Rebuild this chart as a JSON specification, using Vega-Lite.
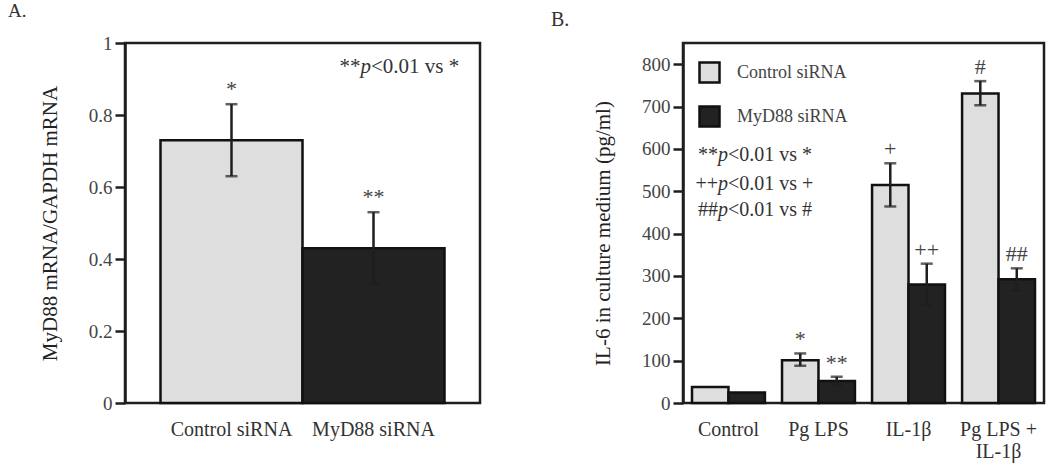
{
  "$schema": "https://vega.github.io/schema/vega-lite/v6.json",
  "padding": {"left": 6, "top": 0, "right": 0, "bottom": 0},
  "background": "white",
  "spacing": 67,
  "config": {
    "font": "Liberation Serif",
    "view": {"stroke": "#1e1e1e", "strokeWidth": 2.5},
    "axis": {
      "labelFont": "Liberation Serif",
      "titleFont": "Liberation Serif",
      "titleFontWeight": "normal",
      "grid": false,
      "domainColor": "#1e1e1e",
      "domainWidth": 2.5,
      "tickColor": "#1e1e1e",
      "tickWidth": 2.5,
      "tickSize": 10,
      "labelColor": "#444444",
      "titleColor": "#222222"
    },
    "title": {"font": "Liberation Serif", "fontWeight": "normal", "color": "#333333"}
  },
  "datasets": {
    "a": [
      {"siRNA": "Control siRNA", "value": 0.73, "lo": 0.63, "hi": 0.83, "sig": "*"},
      {"siRNA": "MyD88 siRNA", "value": 0.43, "lo": 0.33, "hi": 0.53, "sig": "**"}
    ],
    "noteA": [
      {"siRNA": "MyD88 siRNA", "y": 0.917, "pre": "**", "p": "p", "rest": "<0.01 vs *"}
    ],
    "b": [
      {"group": "Control", "siRNA": "Control siRNA", "value": 38, "lo": null, "hi": null, "sig": ""},
      {"group": "Control", "siRNA": "MyD88 siRNA", "value": 25, "lo": null, "hi": null, "sig": ""},
      {"group": "Pg LPS", "siRNA": "Control siRNA", "value": 101, "lo": 88, "hi": 117, "sig": "*"},
      {"group": "Pg LPS", "siRNA": "MyD88 siRNA", "value": 52, "lo": 42, "hi": 62, "sig": "**"},
      {"group": "IL-1β", "siRNA": "Control siRNA", "value": 515, "lo": 464, "hi": 566, "sig": "+"},
      {"group": "IL-1β", "siRNA": "MyD88 siRNA", "value": 280, "lo": 231, "hi": 329, "sig": "++"},
      {"group": "Pg LPS +\nIL-1β", "siRNA": "Control siRNA", "value": 731, "lo": 703, "hi": 760, "sig": "#"},
      {"group": "Pg LPS +\nIL-1β", "siRNA": "MyD88 siRNA", "value": 292, "lo": 266, "hi": 318, "sig": "##"}
    ],
    "noteB": [
      {"group": "Control", "y": 572, "pre": "**", "p": "p", "rest": "<0.01 vs *"},
      {"group": "Control", "y": 503, "pre": "++", "p": "p", "rest": "<0.01 vs +"},
      {"group": "Control", "y": 441, "pre": "##", "p": "p", "rest": "<0.01 vs #"}
    ]
  },
  "resolve": {
    "scale": {"fill": "independent", "x": "independent", "y": "independent"},
    "legend": {"fill": "independent"}
  },
  "hconcat": [
    {
      "width": 355,
      "height": 360,
      "title": {"text": "A.", "anchor": "start", "frame": "group", "dx": -117, "offset": -2, "fontSize": 19, "baseline": "alphabetic"},
      "encoding": {
        "x": {
          "field": "siRNA", "type": "nominal", "sort": ["Control siRNA", "MyD88 siRNA"],
          "scale": {"paddingInner": 0, "paddingOuter": 0.25},
          "axis": {"title": null, "labelAngle": 0, "ticks": false, "domain": false, "labelFontSize": 20, "labelColor": "#333333", "labelPadding": 16, "labelBaseline": "top"}
        }
      },
      "layer": [
        {
          "data": {"name": "a"},
          "mark": {"type": "bar", "stroke": "#111111", "strokeWidth": 2.5},
          "encoding": {
            "y": {
              "field": "value", "type": "quantitative",
              "scale": {"domain": [0, 1], "nice": false},
              "axis": {"title": "MyD88 mRNA/GAPDH mRNA", "values": [0, 0.2, 0.4, 0.6, 0.8, 1], "format": ".1~f", "labelFontSize": 19, "titleFontSize": 21, "labelPadding": 3, "titlePadding": 28}
            },
            "fill": {
              "field": "siRNA", "type": "nominal",
              "scale": {"domain": ["Control siRNA", "MyD88 siRNA"], "range": ["#dedede", "#222222"]},
              "legend": null
            }
          }
        },
        {
          "data": {"name": "a"},
          "mark": {"type": "rule", "strokeWidth": 2.5, "color": "#1e1e1e"},
          "encoding": {
            "y": {"field": "lo", "type": "quantitative"},
            "y2": {"field": "hi"}
          }
        },
        {
          "data": {"name": "a"},
          "mark": {"type": "tick", "orient": "horizontal", "size": 12, "thickness": 2.5, "color": "#1e1e1e"},
          "encoding": {"y": {"field": "hi", "type": "quantitative"}}
        },
        {
          "data": {"name": "a"},
          "mark": {"type": "tick", "orient": "horizontal", "size": 12, "thickness": 2.5, "color": "#1e1e1e"},
          "encoding": {"y": {"field": "lo", "type": "quantitative"}}
        },
        {
          "data": {"name": "a"},
          "mark": {"type": "text", "fontSize": 22, "dy": -8, "baseline": "alphabetic", "color": "#444444"},
          "encoding": {"y": {"field": "hi", "type": "quantitative"}, "text": {"field": "sig"}}
        },
        {
          "data": {"name": "noteA"},
          "mark": {"type": "text", "fontSize": 21, "align": "right", "dx": -13, "baseline": "alphabetic", "color": "#333333"},
          "encoding": {"y": {"field": "y", "type": "quantitative"}, "text": {"field": "pre"}}
        },
        {
          "data": {"name": "noteA"},
          "mark": {"type": "text", "fontSize": 21, "align": "left", "dx": -13, "fontStyle": "italic", "baseline": "alphabetic", "color": "#333333"},
          "encoding": {"y": {"field": "y", "type": "quantitative"}, "text": {"field": "p"}}
        },
        {
          "data": {"name": "noteA"},
          "mark": {"type": "text", "fontSize": 21, "align": "left", "dx": -2.5, "baseline": "alphabetic", "color": "#333333"},
          "encoding": {"y": {"field": "y", "type": "quantitative"}, "text": {"field": "rest"}}
        }
      ]
    },
    {
      "width": 361,
      "height": 360,
      "title": {"text": "B.", "anchor": "start", "frame": "group", "dx": -132, "offset": -3, "fontSize": 20, "baseline": "alphabetic"},
      "encoding": {
        "x": {
          "field": "group", "type": "nominal", "sort": ["Control", "Pg LPS", "IL-1β", "Pg LPS +\nIL-1β"],
          "scale": {"paddingInner": 0.19, "paddingOuter": 0.1},
          "axis": {"title": null, "labelAngle": 0, "ticks": false, "domain": false, "labelFontSize": 20, "labelColor": "#333333", "labelPadding": 16, "labelBaseline": "top", "labelLineHeight": 22, "labelExpr": "split(datum.label, '\\n')"}
        }
      },
      "layer": [
        {
          "data": {"name": "b"},
          "mark": {"type": "bar", "stroke": "#111111", "strokeWidth": 2.5},
          "encoding": {
            "xOffset": {"field": "siRNA", "type": "nominal", "sort": ["Control siRNA", "MyD88 siRNA"], "scale": {"paddingInner": 0, "paddingOuter": 0}},
            "y": {
              "field": "value", "type": "quantitative",
              "scale": {"domain": [0, 850], "nice": false},
              "axis": {"title": "IL-6 in culture medium (pg/ml)", "values": [0, 100, 200, 300, 400, 500, 600, 700, 800], "format": "d", "labelFontSize": 19, "titleFontSize": 21, "labelPadding": 3, "titlePadding": 28, "titleY": 190}
            },
            "fill": {
              "field": "siRNA", "type": "nominal",
              "scale": {"domain": ["Control siRNA", "MyD88 siRNA"], "range": ["#dedede", "#222222"]},
              "legend": {
                "orient": "none", "legendX": 15, "legendY": 18, "title": null, "padding": 0,
                "symbolType": "square", "symbolSize": 400, "symbolStrokeColor": "#111111", "symbolStrokeWidth": 2.5,
                "labelFont": "Liberation Serif", "labelFontSize": 18, "labelColor": "#444444", "labelOffset": 16, "rowPadding": 13
              }
            }
          }
        },
        {
          "data": {"name": "b"},
          "transform": [{"filter": "isValid(datum.hi)"}],
          "mark": {"type": "rule", "strokeWidth": 2.5, "color": "#1e1e1e"},
          "encoding": {
            "xOffset": {"field": "siRNA", "type": "nominal", "sort": ["Control siRNA", "MyD88 siRNA"]},
            "y": {"field": "lo", "type": "quantitative"},
            "y2": {"field": "hi"}
          }
        },
        {
          "data": {"name": "b"},
          "transform": [{"filter": "isValid(datum.hi)"}],
          "mark": {"type": "tick", "orient": "horizontal", "size": 12, "thickness": 2.5, "color": "#1e1e1e"},
          "encoding": {
            "xOffset": {"field": "siRNA", "type": "nominal", "sort": ["Control siRNA", "MyD88 siRNA"]},
            "y": {"field": "hi", "type": "quantitative"}
          }
        },
        {
          "data": {"name": "b"},
          "transform": [{"filter": "isValid(datum.lo)"}],
          "mark": {"type": "tick", "orient": "horizontal", "size": 12, "thickness": 2.5, "color": "#1e1e1e"},
          "encoding": {
            "xOffset": {"field": "siRNA", "type": "nominal", "sort": ["Control siRNA", "MyD88 siRNA"]},
            "y": {"field": "lo", "type": "quantitative"}
          }
        },
        {
          "data": {"name": "b"},
          "transform": [{"filter": "isValid(datum.hi)"}],
          "mark": {"type": "text", "fontSize": 22, "dy": -7, "baseline": "alphabetic", "color": "#444444"},
          "encoding": {
            "xOffset": {"field": "siRNA", "type": "nominal", "sort": ["Control siRNA", "MyD88 siRNA"]},
            "y": {"field": "hi", "type": "quantitative"},
            "text": {"field": "sig"}
          }
        },
        {
          "data": {"name": "noteB"},
          "mark": {"type": "text", "fontSize": 20, "align": "right", "dx": -10.5, "baseline": "alphabetic", "color": "#333333"},
          "encoding": {"y": {"field": "y", "type": "quantitative"}, "text": {"field": "pre"}}
        },
        {
          "data": {"name": "noteB"},
          "mark": {"type": "text", "fontSize": 20, "align": "left", "dx": -10.5, "fontStyle": "italic", "baseline": "alphabetic", "color": "#333333"},
          "encoding": {"y": {"field": "y", "type": "quantitative"}, "text": {"field": "p"}}
        },
        {
          "data": {"name": "noteB"},
          "mark": {"type": "text", "fontSize": 20, "align": "left", "dx": -0.5, "baseline": "alphabetic", "color": "#333333"},
          "encoding": {"y": {"field": "y", "type": "quantitative"}, "text": {"field": "rest"}}
        }
      ]
    }
  ]
}
